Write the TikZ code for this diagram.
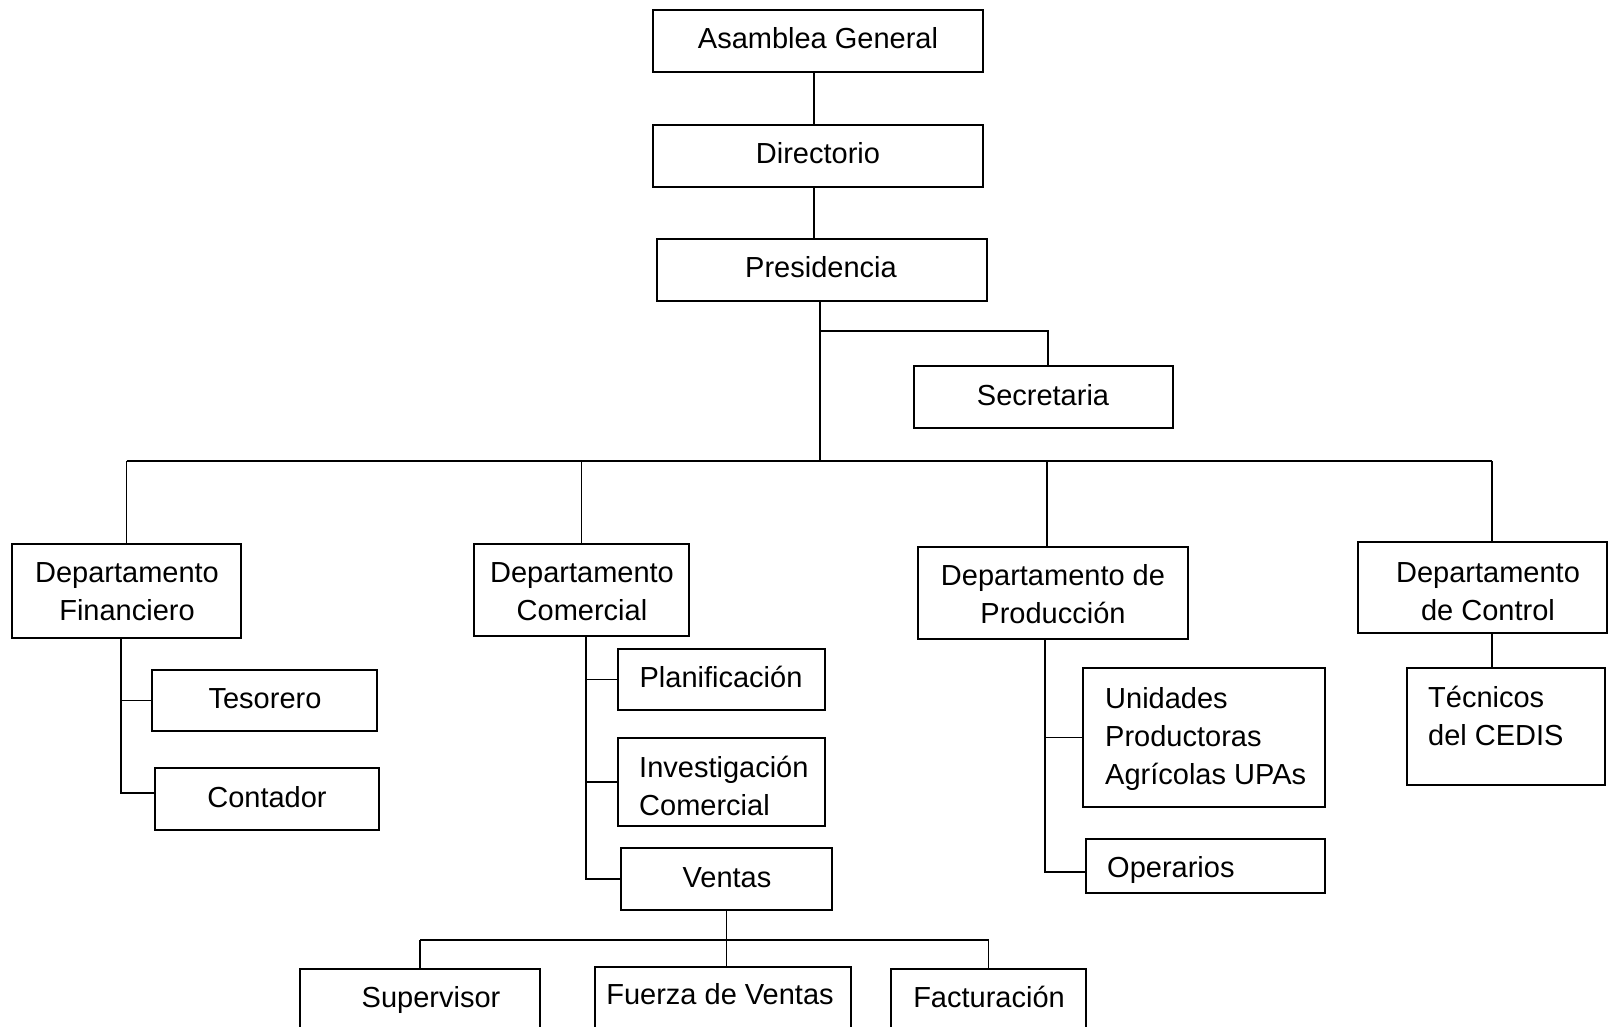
\documentclass[tikz,border=0pt]{standalone}
\usepackage{fontspec}
\setmainfont{Liberation Sans}
\usetikzlibrary{fit}
\begin{document}
\begin{tikzpicture}[x=1pt,y=-1pt,
  box/.style={draw, line width=1.4pt, inner sep=0pt},
  lbl/.style={inner sep=0pt, font=\fontsize{29}{38}\selectfont},
  one/.style={lbl, text height=21pt, text depth=6pt},
  wire/.style={line width=1.4pt}]
\clip (0,0) rectangle (1609,1027);

% boxes
\node[box, fit={(653,10) (983,72)}]     (asamblea) {};
\node[box, fit={(653,125) (983,187)}]   (directorio) {};
\node[box, fit={(657,239) (987,301)}]   (presidencia) {};
\node[box, fit={(914,366) (1173,428)}]  (secretaria) {};
\node[box, fit={(12,544) (241,638)}]    (fin) {};
\node[box, fit={(474,544) (689,636)}]   (com) {};
\node[box, fit={(918,547) (1188,639)}]  (prod) {};
\node[box, fit={(1358,542) (1607,633)}] (ctrl) {};
\node[box, fit={(1407,668) (1605,785)}] (tecnicos) {};
\node[box, fit={(152,670) (377,731)}]   (tesorero) {};
\node[box, fit={(155,768) (379,830)}]   (contador) {};
\node[box, fit={(618,649) (825,710)}]   (planif) {};
\node[box, fit={(618,738) (825,826)}]   (invest) {};
\node[box, fit={(621,848) (832,910)}]   (ventas) {};
\node[box, fit={(300,969) (540,1045)}]  (superv) {};
\node[box, fit={(595,967) (851,1045)}]  (fuerza) {};
\node[box, fit={(891,969) (1086,1045)}] (factur) {};
\node[box, fit={(1083,668) (1325,807)}] (unidades) {};
\node[box, fit={(1086,839) (1325,893)}] (operarios) {};

% texts
\node[one] (t-asamblea)    at (818,41)   {Asamblea General};
\node[one] (t-directorio)  at (818,156)  {Directorio};
\node[one] (t-presidencia) at (821,270)  {Presidencia};
\node[one] (t-secretaria)  at (1043,398) {Secretaria};
\node[one] (t-tesorero)    at (265,701)  {Tesorero};
\node[one] (t-contador)    at (267,800)  {Contador};
\node[one] (t-planif)      at (721,680)  {Planificación};
\node[one] (t-ventas)      at (727,880)  {Ventas};
\node[one] (t-superv)      at (431,1000) {Supervisor};
\node[one] (t-fuerza)      at (720,997)  {Fuerza de Ventas};
\node[one] (t-factur)      at (989,1000) {Facturación};
\node[one, anchor=west] (t-operarios) at (1107,870) {Operarios};
\node[lbl, align=center] (t-fin)  at (127,592)  {Departamento\\Financiero};
\node[lbl, align=center] (t-com)  at (582,592)  {Departamento\\Comercial};
\node[lbl, align=center] (t-prod) at (1053,594) {Departamento de\\Producción};
\node[lbl, align=center] (t-ctrl) at (1488,592) {Departamento\\de Control};
\node[lbl, align=left, anchor=west] (t-tecnicos) at (1428,716) {Técnicos\\del CEDIS};
\node[lbl, align=left, anchor=west] (t-invest)   at (639,786)  {Investigación\\Comercial};
\node[lbl, align=left, anchor=west] (t-unidades) at (1105,739) {Unidades\\Productoras\\Agrícolas UPAs};

% upper chain
\draw[wire] (asamblea.south -| 814,0) -- (directorio.north -| 814,0);
\draw[wire] (directorio.south -| 814,0) -- (presidencia.north -| 814,0);
\coordinate (hub) at (820,461);
\draw[wire] (presidencia.south -| hub) -- (hub);
\draw[wire] (820,331) -| (secretaria.north -| 1048,0);

% department bus
\draw[wire] (fin.north |- hub) -- (1492,461);
\draw[wire] (fin.north |- hub) -- (fin.north);
\draw[wire] (com.north |- hub) -- (com.north);
\draw[wire] (1047,461) -- (prod.north -| 1047,0);
\draw[wire] (1492,461) -- (ctrl.north -| 1492,0);

% financiero
\draw[wire] (fin.south -| 121,0) -- (121,793) -- (contador.west |- 0,793);
\draw[wire] (121,0 |- tesorero.west) -- (tesorero.west);

% comercial
\draw[wire] (com.south -| 586,0) -- (586,0 |- ventas.west) -- (ventas.west);
\draw[wire] (586,0 |- planif.west) -- (planif.west);
\draw[wire] (586,0 |- invest.west) -- (invest.west);

% ventas
\draw[wire] (ventas.south) -- (ventas.south |- fuerza.north);
\draw[wire] (superv.north |- 0,940) -- (factur.north |- 0,940);
\draw[wire] (superv.north |- 0,940) -- (superv.north);
\draw[wire] (factur.north |- 0,940) -- (factur.north);

% produccion
\draw[wire] (prod.south -| 1045,0) -- (1045,872) -- (operarios.west |- 0,872);
\draw[wire] (1045,0 |- unidades.west) -- (unidades.west);

% control
\draw[wire] (ctrl.south -| 1492,0) -- (tecnicos.north -| 1492,0);
\end{tikzpicture}
\end{document}
